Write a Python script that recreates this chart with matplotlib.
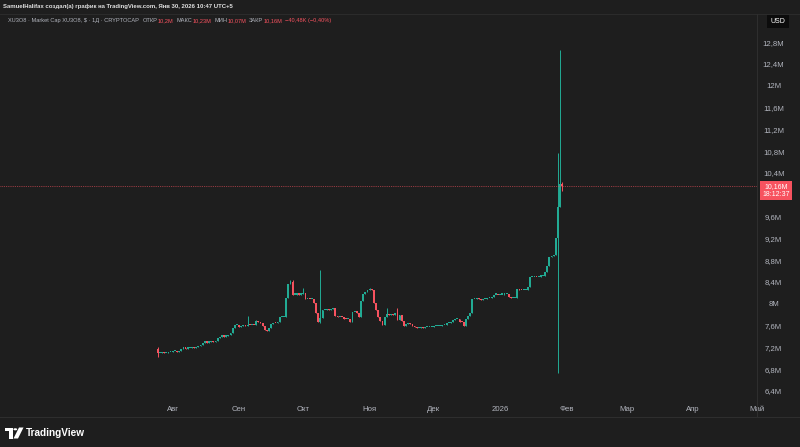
import matplotlib

matplotlib.use("Agg")
import matplotlib.dates as mdates
import matplotlib.pyplot as plt
import matplotlib.transforms as mtransforms
import numpy as np
import pandas as pd
from matplotlib.lines import Line2D
from matplotlib.patches import Circle, Polygon

plt.rcParams["font.family"] = ["Liberation Sans", "DejaVu Sans"]

# --- data (market cap, millions USD, daily candles) ---
dates = pd.date_range("2025-07-25", "2026-01-30", freq="D")
first_open = 7.17
closes = [
    7.10, 7.10, 7.11, 7.09, 7.10, 7.11, 7.12, 7.13, 7.13, 7.12,
    7.14, 7.18, 7.19, 7.18, 7.19, 7.19, 7.20, 7.19, 7.21, 7.22,
    7.24, 7.29, 7.30, 7.29, 7.30, 7.31, 7.30, 7.31, 7.37, 7.40,
    7.41, 7.40, 7.41, 7.42, 7.46, 7.56, 7.61, 7.62, 7.58, 7.60,
    7.61, 7.60, 7.62, 7.61, 7.62, 7.61, 7.68, 7.66, 7.65, 7.60,
    7.52, 7.50, 7.55, 7.63, 7.65, 7.64, 7.66, 7.75, 7.76, 7.76,
    8.10, 8.36, 8.40, 8.17, 8.17, 8.18, 8.17, 8.18, 8.19, 8.08,
    8.09, 8.08, 8.09, 8.02, 7.84, 7.66, 7.74, 7.88, 7.89, 7.90,
    7.89, 7.90, 7.92, 7.77, 7.76, 7.76, 7.75, 7.73, 7.72, 7.72,
    7.67, 7.85, 7.85, 7.84, 7.76, 8.05, 8.18, 8.22, 8.25, 8.27,
    8.25, 8.02, 7.88, 7.76, 7.69, 7.62, 7.76, 7.82, 7.80, 7.82,
    7.80, 7.84, 7.70, 7.79, 7.68, 7.60, 7.63, 7.64, 7.63, 7.60,
    7.57, 7.56, 7.56, 7.57, 7.56, 7.57, 7.57, 7.58, 7.58, 7.59,
    7.59, 7.60, 7.60, 7.61, 7.62, 7.64, 7.65, 7.66, 7.70, 7.72,
    7.73, 7.67, 7.66, 7.59, 7.72, 7.78, 7.84, 8.09, 8.09, 8.10,
    8.09, 8.07, 8.09, 8.09, 8.10, 8.10, 8.12, 8.17, 8.17, 8.16,
    8.17, 8.17, 8.18, 8.18, 8.12, 8.10, 8.10, 8.10, 8.27, 8.26,
    8.25, 8.26, 8.26, 8.30, 8.49, 8.49, 8.50, 8.49, 8.50, 8.51,
    8.51, 8.58, 8.70, 8.86, 8.88, 8.90, 9.20, 9.78, 10.20, 10.16,
]
# days with visible wicks (index -> value); other days keep the body edge
wick_highs = {0: 7.21, 42: 7.78, 46: 7.70, 62: 8.43, 63: 8.44, 68: 8.29,
              76: 8.62, 99: 8.29, 107: 7.92, 112: 7.92,
              187: 10.77, 188: 12.66, 189: 10.23}
wick_lows = {0: 7.02, 76: 7.64, 187: 6.73, 188: 9.78, 189: 10.07}

last_price = 10.16
last_label = "10,16M\n18:12:37"
month_ticks = pd.date_range("2025-08-01", "2026-05-01", freq="MS")
month_labels = ["Авг", "Сен", "Окт", "Ноя", "Дек", "2026", "Фев", "Мар", "Апр", "Май"]
price_ticks = [6.4, 6.8, 7.2, 7.6, 8.0, 8.4, 8.8, 9.2, 9.6,
               10.4, 10.8, 11.2, 11.6, 12.0, 12.4, 12.8]

title_line = "SamuelHalifax создал(а) график на TradingView.com, Янв 30, 2026 10:47 UTC+5"
legend_pieces = [
    ("XU3O8 · Market Cap XU3O8, $ · 1Д · CRYPTOCAP", "grey", 4),
    ("ОТКР", "grey", 0), ("10,2M", "red", 3),
    ("МАКС", "grey", 0), ("10,23M", "red", 3),
    ("МИН", "grey", 0), ("10,07M", "red", 3),
    ("ЗАКР", "grey", 0), ("10,16M", "red", 3),
    ("−40,48K (−0,40%)", "red", 0),
]

BG = "#1e1e1e"
UP = "#22ab94"
DOWN = "#f7525f"
TXT = "#b2b5be"
SEP = "#2e2e2e"
W, H = 800, 447

opens = [first_open] + closes[:-1]
x = mdates.date2num(dates)

fig = plt.figure(figsize=(W / 100, H / 100), dpi=100, facecolor=BG)
ax = fig.add_axes([0, 1 - 400 / H, 757 / W, (400 - 14) / H], facecolor=BG)

for i, (xi, o, c) in enumerate(zip(x, opens, closes)):
    col = UP if c >= o else DOWN
    hi = wick_highs.get(i, max(o, c))
    lo = wick_lows.get(i, min(o, c))
    if hi > lo:
        ax.vlines(xi, lo, hi, color=col, lw=0.7)
    body = max(abs(c - o), 0.02)
    ax.bar(xi, body, bottom=min(o, c), width=0.85, color=col, linewidth=0)

ax.axhline(last_price, color=DOWN, lw=0.6, ls=(0, (1, 1.2)), alpha=0.75)

ax.set_xlim(x[0] - 73.7, x[0] + 279.5)
ax.set_ylim(6.235, 13.318)
for s in ax.spines.values():
    s.set_visible(False)

ax.set_xticks(mdates.date2num(month_ticks))
ax.set_xticklabels(month_labels)
ax.yaxis.tick_right()
ax.set_yticks(price_ticks)
ax.set_yticklabels([f"{v:.1f}".replace(".0", "").replace(".", ",") + "M" for v in price_ticks])
ax.tick_params(axis="x", length=0, pad=4.5, labelsize=5.6, colors=TXT)
ax.tick_params(axis="y", length=0, pad=12, labelsize=5.6, colors=TXT)
for lab in ax.get_yticklabels():
    lab.set_ha("center")

trans = mtransforms.blended_transform_factory(ax.transAxes, ax.transData)
ax.annotate(last_label, xy=(776 / 757, last_price), xycoords=trans,
            xytext=(0, -3), textcoords="offset points", ha="center", va="center",
            fontsize=5, color="white", linespacing=1.15, annotation_clip=False,
            bbox=dict(boxstyle="square,pad=0.3", fc=DOWN, ec="none"))

# separators
fig.add_artist(Line2D([757 / W, 757 / W], [1 - 14 / H, 1 - 417 / H], color=SEP, lw=0.8))
fig.add_artist(Line2D([0, 1], [1 - 417 / H, 1 - 417 / H], color=SEP, lw=0.8))
fig.add_artist(Line2D([0, 1], [1 - 14 / H, 1 - 14 / H], color=SEP, lw=0.6))

fig.text(778 / W, 1 - 21.5 / H, "USD", fontsize=5, color="white", ha="center", va="center",
         bbox=dict(boxstyle="square,pad=0.45", fc="#0c0c0c", ec="none"))

# header lines
fig.text(3 / W, 1 - 6.5 / H, title_line, fontsize=4.3, color="#e0e0e0",
         fontweight="bold", va="center")
renderer = fig.canvas.get_renderer()
cx = 8
for txt, kind, gap in legend_pieces:
    t = fig.text(cx / W, 1 - 20.5 / H, txt, fontsize=4.1, va="center",
                 color=DOWN if kind == "red" else TXT)
    cx += t.get_window_extent(renderer).width + gap

# footer logo


def px(xp, yp):
    return (xp / W, 1 - yp / H)


fig.add_artist(Polygon([px(5, 427.5), px(12.5, 427.5), px(12.5, 438.5), px(9, 438.5),
                        px(9, 431), px(5, 431)], closed=True, transform=fig.transFigure,
                       fc="white", ec="none"))
fig.add_artist(Circle(px(15.3, 429.3), 1.9 / W, transform=fig.transFigure, fc="white", ec="none"))
fig.add_artist(Polygon([px(19, 427.5), px(23.5, 427.5), px(18, 438.5), px(13.5, 438.5)],
                       closed=True, transform=fig.transFigure, fc="white", ec="none"))
fig.text(26 / W, 1 - 433 / H, "TradingView", fontsize=7.2, color="white",
         fontweight="bold", va="center")

fig.savefig("out.png", dpi=100, facecolor=BG)
